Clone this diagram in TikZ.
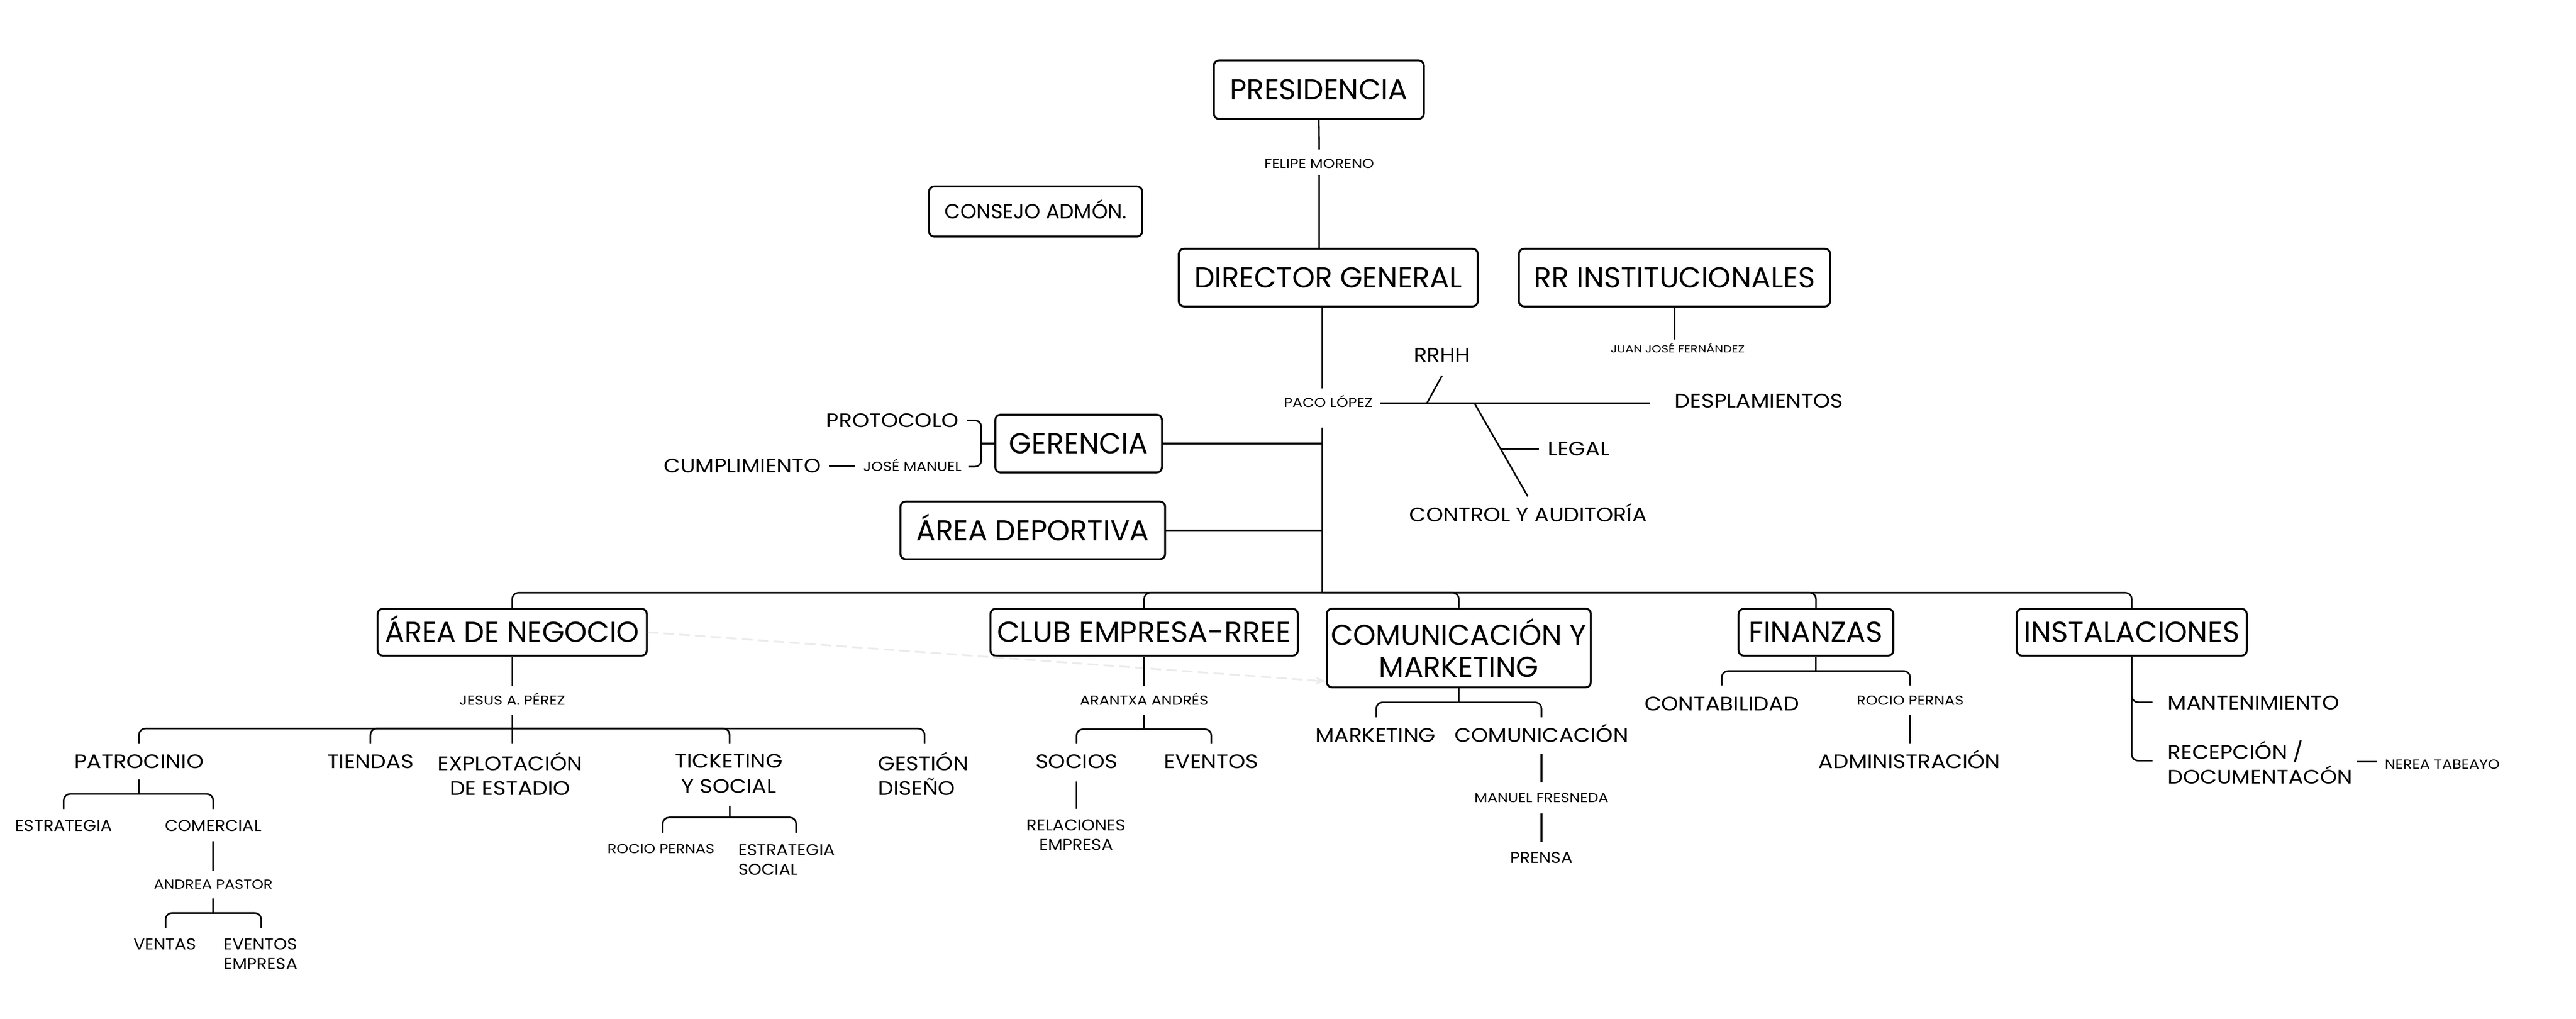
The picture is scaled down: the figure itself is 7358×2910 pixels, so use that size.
\documentclass[tikz,border=0pt]{standalone}
\usepackage{fontspec}
\setmainfont{Poppins}
\newfontfamily\fntmed[FakeStretch=1.11]{Poppins}
\newfontfamily\fntsmall[FakeStretch=1.08]{Poppins}
\newfontfamily\fntname[FakeStretch=1.15]{Poppins}
\newfontfamily\fnttiny[FakeStretch=1.2]{Poppins}
\newfontfamily\fntclub[FakeStretch=1.03]{Poppins}
\usetikzlibrary{calc,arrows.meta}
\tikzset{
  box/.style={draw, line width=1.1pt, rounded corners=3pt, inner sep=0pt, align=center,
    text height=11.5pt, text depth=0pt, font=\fontsize{16.5}{20}\selectfont},
  boxm/.style={draw, line width=1.1pt, rounded corners=3pt, inner sep=0pt, align=center,
    font=\fontsize{16.5}{18.2}\selectfont},
  conn/.style={line width=0.9pt},
  fork/.style={line width=0.9pt, rounded corners=3.6pt},
  tmed/.style={inner sep=0pt, text height=7.8pt, text depth=0pt, font=\fntmed\fontsize{11.2}{14.2}\selectfont},
  tmedm/.style={inner sep=0pt, align=center, font=\fntmed\fontsize{11.2}{14.2}\selectfont},
  tsmall/.style={inner sep=0pt, text height=6.3pt, text depth=0pt, font=\fntsmall\fontsize{9}{11}\selectfont},
  tsmallm/.style={inner sep=0pt, align=center, font=\fntsmall\fontsize{9}{11}\selectfont},
  tname/.style={inner sep=0pt, text height=5.2pt, text depth=0pt, font=\fntname\fontsize{7.45}{9}\selectfont},
  ttiny/.style={inner sep=0pt, text height=4pt, text depth=0pt, font=\fnttiny\fontsize{5.8}{7}\selectfont},
}
\begin{document}
\begin{tikzpicture}[x=0.2pt,y=-0.2pt]
\fill[white] (0,0) rectangle (7358,2910);
\path[use as bounding box] (0,0) rectangle (7358,2910);

% ---------- boxes ----------
\node[box, minimum width=120pt, minimum height=33.4pt] (pres) at (3767,256) {PRESIDENCIA};
\node[box, minimum width=121.8pt, minimum height=28.6pt, text height=8.2pt, font=\fontsize{11.7}{14}\selectfont] (cons) at (2958,604) {CONSEJO ADMÓN.};
\node[box, minimum width=170.8pt, minimum height=33pt] (dg) at (3794,793) {DIRECTOR GENERAL};
\node[box, minimum width=177.8pt, minimum height=33pt] (rri) at (4783,793) {RR INSTITUCIONALES};
\node[box, minimum width=95.2pt, minimum height=33pt] (ger) at (3081,1267) {GERENCIA};
\node[box, minimum width=151.2pt, minimum height=33pt] (dep) at (2950,1515) {ÁREA DEPORTIVA};
\node[box, minimum width=153.8pt, minimum height=26.8pt] (neg) at (1463,1806) {ÁREA DE NEGOCIO};
\node[box, minimum width=175.6pt, minimum height=26.8pt, font=\fntclub\fontsize{16.5}{20}\selectfont] (club) at (3268,1806) {CLUB EMPRESA-RREE};
\node[boxm, minimum width=150.8pt, minimum height=45pt] (com) at (4167,1851) {COMUNICACIÓN Y\\MARKETING};
\node[box, minimum width=88.4pt, minimum height=26.8pt] (fin) at (5187,1806) {FINANZAS};
\node[box, minimum width=131.4pt, minimum height=26.8pt] (inst) at (6089,1806) {INSTALACIONES};

% ---------- texts ----------
\node[tname] (fm) at (3768,468) {FELIPE MORENO};
\node[ttiny] (jjf) at (4792,997) {JUAN JOSÉ FERNÁNDEZ};
\node[tname] (paco) at (3794,1151) {PACO LÓPEZ};
\node[tmed] (rrhh) at (4119,1015) {RRHH};
\node[tmed, anchor=west] (desp) at (4783,1145) {DESPLAMIENTOS};
\node[tmed, anchor=west] (legal) at (4421,1282) {LEGAL};
\node[tmed] (ctrl) at (4365,1470) {CONTROL Y AUDITORÍA};
\node[tmed, anchor=east] (prot) at (2739,1201) {PROTOCOLO};
\node[tmed, anchor=east] (cump) at (2346,1331) {CUMPLIMIENTO};
\node[tname] (jm) at (2606,1333) {JOSÉ MANUEL};

\node[tname] (jesus) at (1463,2001) {JESUS A. PÉREZ};
\node[tmed] (pat) at (397,2175) {PATROCINIO};
\node[tmed] (tien) at (1058,2175) {TIENDAS};
\node[tmedm] (expl) at (1457,2210) {EXPLOTACIÓN\\DE ESTADIO};
\node[tmedm] (tick) at (2082,2210) {TICKETING\\Y SOCIAL};
\node[tmedm, align=left, anchor=west] (gest) at (2507,2210) {GESTIÓN\\DISEÑO};
\node[tsmall] (estr) at (182,2359) {ESTRATEGIA};
\node[tsmall] (come) at (609,2359) {COMERCIAL};
\node[tname] (andrea) at (609,2526) {ANDREA PASTOR};
\node[tsmall] (vent) at (471,2697) {VENTAS};
\node[tsmallm, align=left, anchor=west] (evem) at (638,2725) {EVENTOS\\EMPRESA};
\node[tname] (rocio1) at (1888,2424) {ROCIO PERNAS};
\node[tsmallm, align=left, anchor=west] (estsoc) at (2108,2456) {ESTRATEGIA\\SOCIAL};

\node[tname] (aran) at (3268,2001) {ARANTXA ANDRÉS};
\node[tmed] (socios) at (3075,2175) {SOCIOS};
\node[tmed] (event) at (3460,2175) {EVENTOS};
\node[tsmallm] (rel) at (3074,2385) {RELACIONES\\EMPRESA};

\node[tmed] (mkt) at (3929,2101) {MARKETING};
\node[tmed] (comu) at (4403,2101) {COMUNICACIÓN};
\node[tname] (manuel) at (4403,2279) {MANUEL FRESNEDA};
\node[tsmall] (prensa) at (4403,2450) {PRENSA};

\node[tmed] (cont) at (4918,2010) {CONTABILIDAD};
\node[tname] (rocio2) at (5456,2001) {ROCIO PERNAS};
\node[tmed] (admin) at (5454,2175) {ADMINISTRACIÓN};

\node[tmed, anchor=west] (mant) at (6191,2008) {MANTENIMIENTO};
\node[tmedm, align=left, anchor=west] (recep) at (6191,2177) {RECEPCIÓN /\\DOCUMENTACÓN};
\node[tname, anchor=west] (nerea) at (6811,2183) {NEREA TABEAYO};

% ---------- light dashed arrow ----------
\coordinate (dashend) at ($(com.south west)+(0,-20)$);
\draw[dashed, dash pattern=on 6pt off 3pt, draw=black!8, line width=1pt, -{Stealth[length=6pt]}] (neg.east) -- (dashend);

% ---------- top connectors ----------
\draw[conn] (pres.south) -- ($(fm)+(0,-41)$);
\draw[conn] ($(fm)+(0,33)$) -- (fm |- dg.north);

\coordinate (bus) at (3777,1693);
\draw[conn] (dg.south -| bus) -- ($(bus |- paco)+(0,-41)$);
\draw[conn] ($(bus |- paco)+(0,70)$) -- (bus);
\draw[conn] (ger.east) -- (ger.east -| bus);
\draw[conn] (dep.east) -- (dep.east -| bus);

\draw[conn] (rri.south) -- ++(0,91);

% paco branches
\draw[conn, shorten <=4.2pt, shorten >=13.8pt] (paco.east) -- (paco.east -| desp.west);
\coordinate (rrj) at (4076,1151);
\coordinate (rrt) at (4119,1073);
\draw[conn] (rrj) -- (rrt);
\coordinate (ctj) at (4211,1151);
\coordinate (ctt) at (4364,1418);
\draw[conn] (ctj) -- (ctt);
\coordinate (lgj) at (4287,1282);
\draw[conn, shorten >=5.2pt] (lgj) -- (legal.west);

% gerencia brace
\coordinate (brc) at (2803,1267);
\draw[fork] ($(prot.east)+(23,0)$) -| (brc) |- ($(jm.east)+(19,0)$);
\draw[conn] (brc) -- (ger.west);
\draw[conn, shorten <=4.4pt, shorten >=4.4pt] (cump.east) -- (cump.east -| jm.west);

% main bus
\draw[fork] (bus) -| (neg.north);
\draw[fork] (bus) -| (club.north);
\draw[fork] (bus) -| (com.north);
\draw[fork] (bus) -| (fin.north);
\draw[fork] (bus) -| (inst.north);

% ---------- area de negocio ----------
\draw[conn] (neg.south) -- ($(jesus)+(0,-43)$);
\coordinate (negj) at ($(jesus)+(0,80)$);
\draw[conn] ($(jesus)+(0,41)$) -- ($(jesus)+(0,124)$);
\draw[fork] (negj) -| ($(pat)+(0,-50)$);
\draw[fork] (negj) -| ($(tien)+(0,-50)$);
\draw[fork] (negj) -| ($(tick)+(2,-85)$);
\draw[fork] (negj) -| ($(gest.west)+(134,-85)$);

\coordinate (patj) at ($(pat)+(0,93)$);
\draw[conn] ($(pat)+(0,52)$) -- (patj);
\draw[fork] (patj) -| ($(estr)+(0,-48)$);
\draw[fork] (patj) -| ($(come)+(0,-48)$);

\draw[conn] ($(come)+(0,44)$) -- ($(andrea)+(0,-39)$);
\coordinate (andj) at ($(andrea)+(0,82)$);
\draw[conn] ($(andrea)+(0,41)$) -- (andj);
\draw[fork] (andj) -| ($(vent)+(2,-47)$);
\draw[fork] (andj) -| ($(evem.west)+(108,-75)$);

\coordinate (tickj) at ($(tick)+(2,125)$);
\draw[conn] ($(tick)+(2,91)$) -- (tickj);
\draw[fork] (tickj) -| ($(rocio1)+(5,-45)$);
\draw[fork] (tickj) -| ($(estsoc.west)+(166,-77)$);

% ---------- club ----------
\draw[conn] (club.south) -- ($(aran)+(0,-43)$);
\coordinate (clubj) at ($(aran)+(0,82)$);
\draw[conn] ($(aran)+(0,41)$) -- (clubj);
\draw[fork] (clubj) -| ($(socios)+(0,-50)$);
\draw[fork] (clubj) -| ($(event)+(0,-50)$);
\draw[conn] ($(socios)+(0,58)$) -- ($(rel)+(1,-74)$);

% ---------- comunicacion ----------
\coordinate (comj) at ($(com.south)+(0,40)$);
\draw[conn] (com.south) -- (comj);
\draw[fork] (comj) -| ($(mkt)+(2,-52)$);
\draw[fork] (comj) -| ($(comu)+(0,-52)$);
\draw[conn] ($(comu)+(0,52)$) -- ($(manuel)+(0,-43)$);
\draw[conn] ($(manuel)+(0,45)$) -- ($(prensa)+(0,-45)$);

% ---------- finanzas ----------
\coordinate (finj) at ($(fin.south)+(0,41)$);
\draw[conn] (fin.south) -- (finj);
\draw[fork] (finj) -| ($(cont)+(0,-52)$);
\draw[fork] (finj) -| ($(rocio2)+(0,-43)$);
\draw[conn] ($(rocio2)+(0,41)$) -- ($(admin)+(2,-50)$);

% ---------- instalaciones ----------
\draw[fork] (inst.south) |- ($(mant.west)+(-43,-2)$);
\draw[fork] (inst.south) |- ($(recep.west)+(-43,-4)$);
\draw[conn] ($(nerea.west)+(-78,-7)$) -- ($(nerea.west)+(-21,-7)$);
\end{tikzpicture}
\end{document}
